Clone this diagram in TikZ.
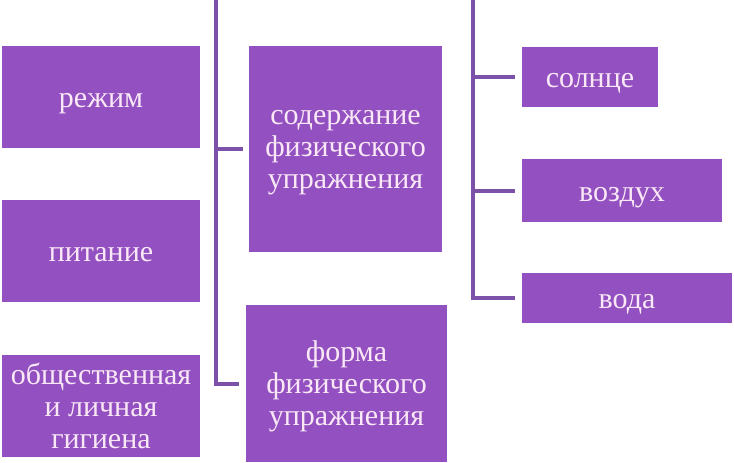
\documentclass[tikz,border=0pt]{standalone}
\usepackage{fontspec}
\setmainfont{Liberation Serif}
\definecolor{plum}{RGB}{146,80,192}
\definecolor{plumline}{RGB}{124,82,168}
\definecolor{pinkwhite}{RGB}{250,232,246}
\usetikzlibrary{positioning}
\tikzset{
  card/.style={fill=plum, inner sep=0pt, text=pinkwhite, align=center,
               font=\fontsize{30}{32}\selectfont},
  oneline/.style={card, text height=24pt, text depth=3pt},
  link/.style={draw=plumline, line width=4pt},
}

\begin{document}
\begin{tikzpicture}[x=1pt,y=-1pt]
        \useasboundingbox (0,0) rectangle (734,463);
        % left column
        \node[oneline,minimum width=198pt,minimum height=102pt] (regime) at (101,97) {режим};
        \node[oneline,minimum width=198pt,minimum height=102pt] (food) at (101,251) {питание};
        \node[card,minimum width=198pt,minimum height=102pt] (hygiene) at (101,406) {общественная\\и личная\\гигиена};
        % middle column
        \node[card,text depth=-3pt,minimum width=193pt,minimum height=206pt] (content) at (345.5,149) {содержание\\физического\\упражнения};
        \node[card,text depth=1pt,minimum width=201pt,minimum height=157pt] (form) at (346.5,383.5) {форма\\физического\\упражнения};
        % right column
        \node[oneline,minimum width=136pt,minimum height=60pt] (sun) at (590,77) {солнце};
        \node[oneline,minimum width=200pt,minimum height=63pt] (air) at (622,190.5) {воздух};
        \node[oneline,minimum width=210pt,minimum height=50pt] (water) at (627,298) {вода};
        % trunks
        \coordinate (ltop) at (216,0);
        \coordinate (rtop) at (473,0);
        \draw[link,shorten >=7pt] (ltop) |- (form.west);
        \draw[link,shorten >=6pt] (ltop |- content.west) -- (content.west);
        \draw[link,shorten >=7pt] (rtop) |- (water.west);
        \draw[link,shorten >=7pt] (rtop |- sun.west) -- (sun.west);
        \draw[link,shorten >=7pt] (rtop |- air.west) -- (air.west);
      \end{tikzpicture}
\end{document}
